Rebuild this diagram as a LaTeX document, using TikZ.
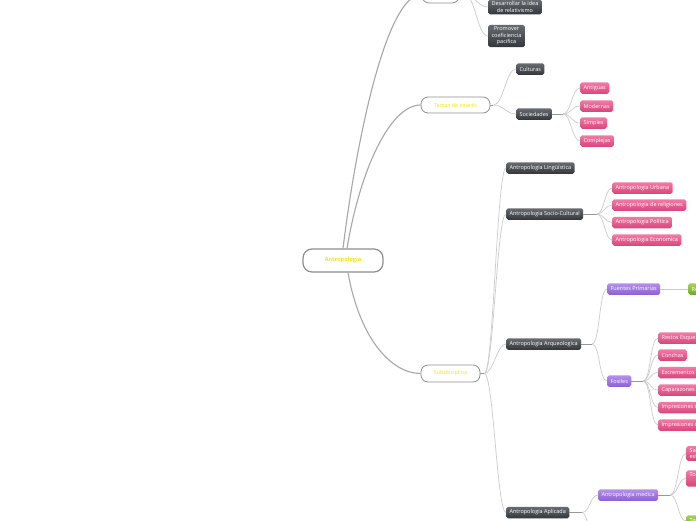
\documentclass[tikz,border=0pt]{standalone}
\usepackage{fontspec}
\setmainfont{Open Sans}
\usepackage{xcolor}
\usepackage{tikz}
\usetikzlibrary{calc}

\definecolor{darkTop}{HTML}{686C70}
\definecolor{darkBot}{HTML}{33373B}
\definecolor{pinkTop}{HTML}{F27BA6}
\definecolor{pinkBot}{HTML}{D8457B}
\definecolor{lilaTop}{HTML}{B590EA}
\definecolor{lilaBot}{HTML}{8C60D5}
\definecolor{greenTop}{HTML}{A4D450}
\definecolor{greenBot}{HTML}{70AA20}
\definecolor{mapYellow}{HTML}{F4E600}
\definecolor{frameGray}{HTML}{8E8E8E}
\definecolor{twigGray}{HTML}{CBCBCB}
\definecolor{stemGray}{HTML}{979797}

\tikzset{
  topic/.style={draw=frameGray, fill=white, rounded corners=7pt, text=mapYellow,
    font=\fontsize{5.4}{6}\selectfont, inner sep=0pt, line width=0.8pt},
  leaf/.style={rounded corners=1.8pt, text=white, font=\fontsize{5.5}{6.6}\selectfont,
    inner xsep=3.4pt, inner ysep=2pt, minimum height=11.5pt, align=center, anchor=west},
  darkbox/.style={leaf, top color=darkTop, bottom color=darkBot},
  pinkbox/.style={leaf, top color=pinkTop, bottom color=pinkBot},
  lilabox/.style={leaf, top color=lilaTop, bottom color=lilaBot},
  greenbox/.style={leaf, top color=greenTop, bottom color=greenBot},
  limb/.style={draw=stemGray!85, line width=1.1pt},
  stem/.style={draw=stemGray, line width=1pt},
  twig/.style={draw=twigGray, line width=0.7pt}
}

\begin{document}
\begin{tikzpicture}[x=1pt,y=-1pt]
  \useasboundingbox (0,0) rectangle (696,520);
  \clip (0,0) rectangle (696,520);
  \fill[white] (0,0) rectangle (696,520);

  % centre and first level
  \node[topic, minimum width=80pt, minimum height=23pt, line width=1.2pt, rounded corners=9pt,
        font=\fontsize{5.6}{6}\selectfont\bfseries] (root) at (343,260.5) {Antropologia};
  \node[topic, minimum width=37pt, minimum height=17pt] (topn) at (440.5,-5.5) {};
  \node[topic, minimum width=69pt, minimum height=16pt] (temas) at (455.5,105) {Temas de interés};
  \node[topic, minimum width=59pt, minimum height=17pt] (subd) at (450.5,373.5) {Subdisciplina};

  \draw[limb] (root.north) .. controls (355,150) and (385,-5.5) .. (topn.west);
  \draw[limb] ($(root.north)+(4,0)$) .. controls (360,170) and (390,105) .. (temas.west);
  \draw[limb] ($(root.south)+(5,0)$) .. controls (360,340) and (392,373.5) .. (subd.west);

  % upper branch
  \node[darkbox] (desa) at (488,7) {Desarrollar la idea\\de relativismo};
  \node[darkbox] (prom) at (488,36) {Promover\\coeficiencia\\pacifica};
  \draw[stem] (topn.east) -- ++(5,0) coordinate (topnT);
  \foreach \c in {desa,prom}{\draw[twig] (topnT) .. controls +(11,0) and +(-11,0) .. (\c.west);}

  % temas de interes
  \node[darkbox] (cult) at (516,69) {Culturas};
  \node[darkbox] (soc) at (516,114) {Sociedades};
  \draw[stem] (temas.east) -- ++(3,0) coordinate (temasT);
  \foreach \c in {cult,soc}{\draw[twig] (temasT) .. controls +(10,0) and +(-10,0) .. (\c.west);}

  \node[pinkbox] (antig) at (580,88) {Antiguas};
  \node[pinkbox] (mod) at (580,106) {Modernas};
  \node[pinkbox] (simp) at (580,123) {Simples};
  \node[pinkbox] (compl) at (580,141) {Complejas};
  \draw[stem] (soc.east) -- (563,114) coordinate (socT);
  \foreach \c in {antig,mod,simp,compl}{\draw[twig] (socT) .. controls +(8,0) and +(-8,0) .. (\c.west);}

  % subdisciplinas
  \node[darkbox] (ling) at (506,168) {Antropologia Lingüística};
  \node[darkbox] (socio) at (506,214) {Antropologia Socio-Cultural};
  \node[darkbox] (arq) at (506,344) {Antropologia Arqueologica};
  \node[darkbox] (aplic) at (506,512.5) {Antropologia Aplicada};
  \draw[stem] (subd.east) -- ++(4,0) coordinate (subdT);
  \foreach \c in {ling,socio,arq,aplic}{\draw[twig] (subdT) .. controls +(9,0) and +(-9,0) .. (\c.west);}

  \node[pinkbox] (urb) at (612,188) {Antropologia Urbana};
  \node[pinkbox] (relig) at (612,205) {Antropologia de religiones};
  \node[pinkbox] (pol) at (612,222.5) {Antropologia Politica};
  \node[pinkbox] (econ) at (612,240) {Antropologia Economica};
  \draw[stem] (socio.east) -- (597,214) coordinate (socioT);
  \foreach \c in {urb,relig,pol,econ}{\draw[twig] (socioT) .. controls +(7,0) and +(-7,0) .. (\c.west);}

  \node[lilabox] (fuent) at (607,289) {Fuentes Primarias};
  \node[lilabox] (fosil) at (607,381) {Fosiles};
  \draw[stem] (arq.east) -- (592,344) coordinate (arqT);
  \foreach \c in {fuent,fosil}{\draw[twig] (arqT) .. controls +(8,0) and +(-8,0) .. (\c.west);}

  \node[greenbox] (rmat) at (688,289) {Restos materiales};
  \draw[twig, line width=0.9pt] (fuent.east) -- (rmat.west);

  \node[pinkbox] (rest) at (658,338) {Restos Esqueléticos};
  \node[pinkbox] (conch) at (658,355) {Conchas};
  \node[pinkbox] (excr) at (658,372.5) {Excrementos fósiles};
  \node[pinkbox] (capa) at (658,390) {Caparazones fósiles};
  \node[pinkbox] (imp1) at (658,407.5) {Impresiones de plantas};
  \node[pinkbox] (imp2) at (658,425) {Impresiones de huellas};
  \draw[stem] (fosil.east) -- (643,381) coordinate (fosilT);
  \foreach \c in {rest,conch,excr,capa,imp1,imp2}{\draw[twig] (fosilT) .. controls +(8,0) and +(-8,0) .. (\c.west);}

  \node[lilabox] (medic) at (598,495) {Antropologia medica};
  \coordinate (aplicB) at (598,560);
  \draw[stem] (aplic.east) -- (582,512.5) coordinate (aplicT);
  \foreach \c in {medic.west,aplicB}{\draw[twig] (aplicT) .. controls +(8,0) and +(-8,0) .. (\c);}

  \node[pinkbox] (med1) at (686,453.5) {Salud y enfermedad\\estudio intercultural};
  \node[pinkbox] (med2) at (686,478.5) {Toma de decisiones\\terapéuticas};
  \node[greenbox] (med3) at (686,521) {Terapias};
  \draw[stem] (medic.east) -- (670,495) coordinate (medicT);
  \foreach \c in {med1,med2,med3}{\draw[twig] (medicT) .. controls +(8,0) and +(-8,0) .. (\c.west);}
\end{tikzpicture}
\end{document}
